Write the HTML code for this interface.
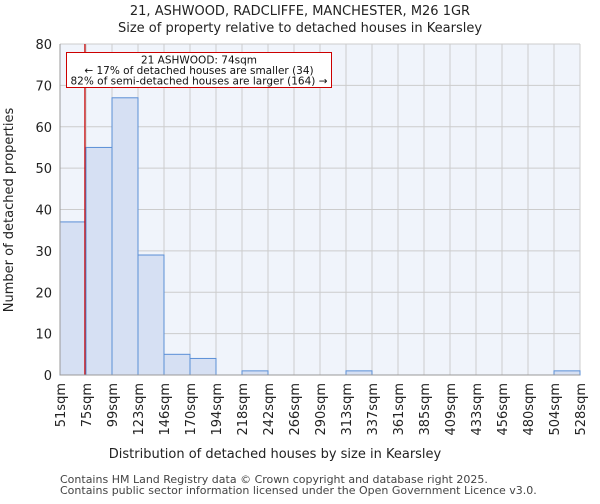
<!DOCTYPE html>
<html><head><meta charset="utf-8"><style>
body{margin:0;background:#fff;font-family:"DejaVu Sans","Liberation Sans",sans-serif;}
</style></head><body>
<svg id="c" width="600" height="500" xmlns="http://www.w3.org/2000/svg" font-family="DejaVu Sans, Liberation Sans, sans-serif">
<text x="300" y="15" text-anchor="middle" font-size="13" fill="#222">21, ASHWOOD, RADCLIFFE, MANCHESTER, M26 1GR</text>
<text x="300" y="32" text-anchor="middle" font-size="13" fill="#222">Size of property relative to detached houses in Kearsley</text>
<rect x="60" y="44" width="520" height="331" fill="#f0f4fb"/>
<g id="grid"></g><g id="bars"></g><g id="axes"></g>
<text x="275" y="458" text-anchor="middle" font-size="13" fill="#222">Distribution of detached houses by size in Kearsley</text>
<text transform="translate(13,210) rotate(-90)" text-anchor="middle" font-size="13" fill="#222">Number of detached properties</text>
<text x="60" y="483" font-size="11" fill="#444">Contains HM Land Registry data © Crown copyright and database right 2025.</text>
<text x="60" y="494" font-size="11" fill="#444">Contains public sector information licensed under the Open Government Licence v3.0.</text>
</svg>
<script>
const tickLabels=["51sqm","75sqm","99sqm","123sqm","146sqm","170sqm","194sqm","218sqm","242sqm","266sqm","290sqm","313sqm","337sqm","361sqm","385sqm","409sqm","433sqm","456sqm","480sqm","504sqm","528sqm"];
const counts=[37,55,67,29,5,4,0,1,0,0,0,1,0,0,0,0,0,0,0,1];
const yTicks=[0,10,20,30,40,50,60,70,80];
const propertySize=74;
const binStart=51, binStep=24;
const NS="http://www.w3.org/2000/svg";
const L=60,R=580,T=44,B=375,yMax=80;
const bw=(R-L)/counts.length;
const xs=i=>L+i*bw;
const ys=v=>B-v/yMax*(B-T);
function mk(t,a,p){const e=document.createElementNS(NS,t);for(const k in a)e.setAttribute(k,a[k]);p.appendChild(e);return e;}
const g=document.getElementById('grid'),b=document.getElementById('bars'),ax=document.getElementById('axes');
yTicks.forEach(v=>{
 const l=mk('line',{x1:L,x2:R,y1:ys(v),y2:ys(v),stroke:'#ccc','stroke-width':1},g);
 
 
 const t=mk('text',{x:L-8,y:ys(v)+5,'text-anchor':'end','font-size':13,fill:'#222'},ax);
 t.textContent=v;
 
 
});
tickLabels.forEach((s,i)=>{
 const x=xs(i);
 const l=mk('line',{x1:x,x2:x,y1:T,y2:B,stroke:'#ccc','stroke-width':1},g);
 
 
 const t=mk('text',{transform:`translate(${x+5},${B+8}) rotate(-90)`,'text-anchor':'end','font-size':13,fill:'#222'},ax);
 t.textContent=s;
 
 
});
counts.forEach((v,i)=>{
 if(v<=0)return;
 const r=mk('rect',{x:xs(i),y:ys(v),width:bw,height:B-ys(v),fill:'#d6e0f3',stroke:'#5b8fd6','stroke-width':1},b);
 
 
});
const px=L+(propertySize-binStart)/binStep*bw;
const rl=mk('line',{x1:px,x2:px,y1:T,y2:B,stroke:'#c00','stroke-width':1.2},ax);


const box=mk('rect',{x:66.5,y:52.5,width:265,height:35,fill:'#fff',stroke:'#c00','stroke-width':1},ax);


["21 ASHWOOD: 74sqm","← 17% of detached houses are smaller (34)","82% of semi-detached houses are larger (164) →"].forEach((s,i)=>{
 const t=mk('text',{x:199,y:63.5+i*10.5,'text-anchor':'middle','font-size':10.5,fill:'#111'},ax);
 t.textContent=s;
 
 
});
const a1=mk('line',{x1:L,x2:L,y1:T,y2:B,stroke:'#999'},ax);


const a2=mk('line',{x1:L,x2:R,y1:B,y2:B,stroke:'#999'},ax);


</script>
</body></html>
